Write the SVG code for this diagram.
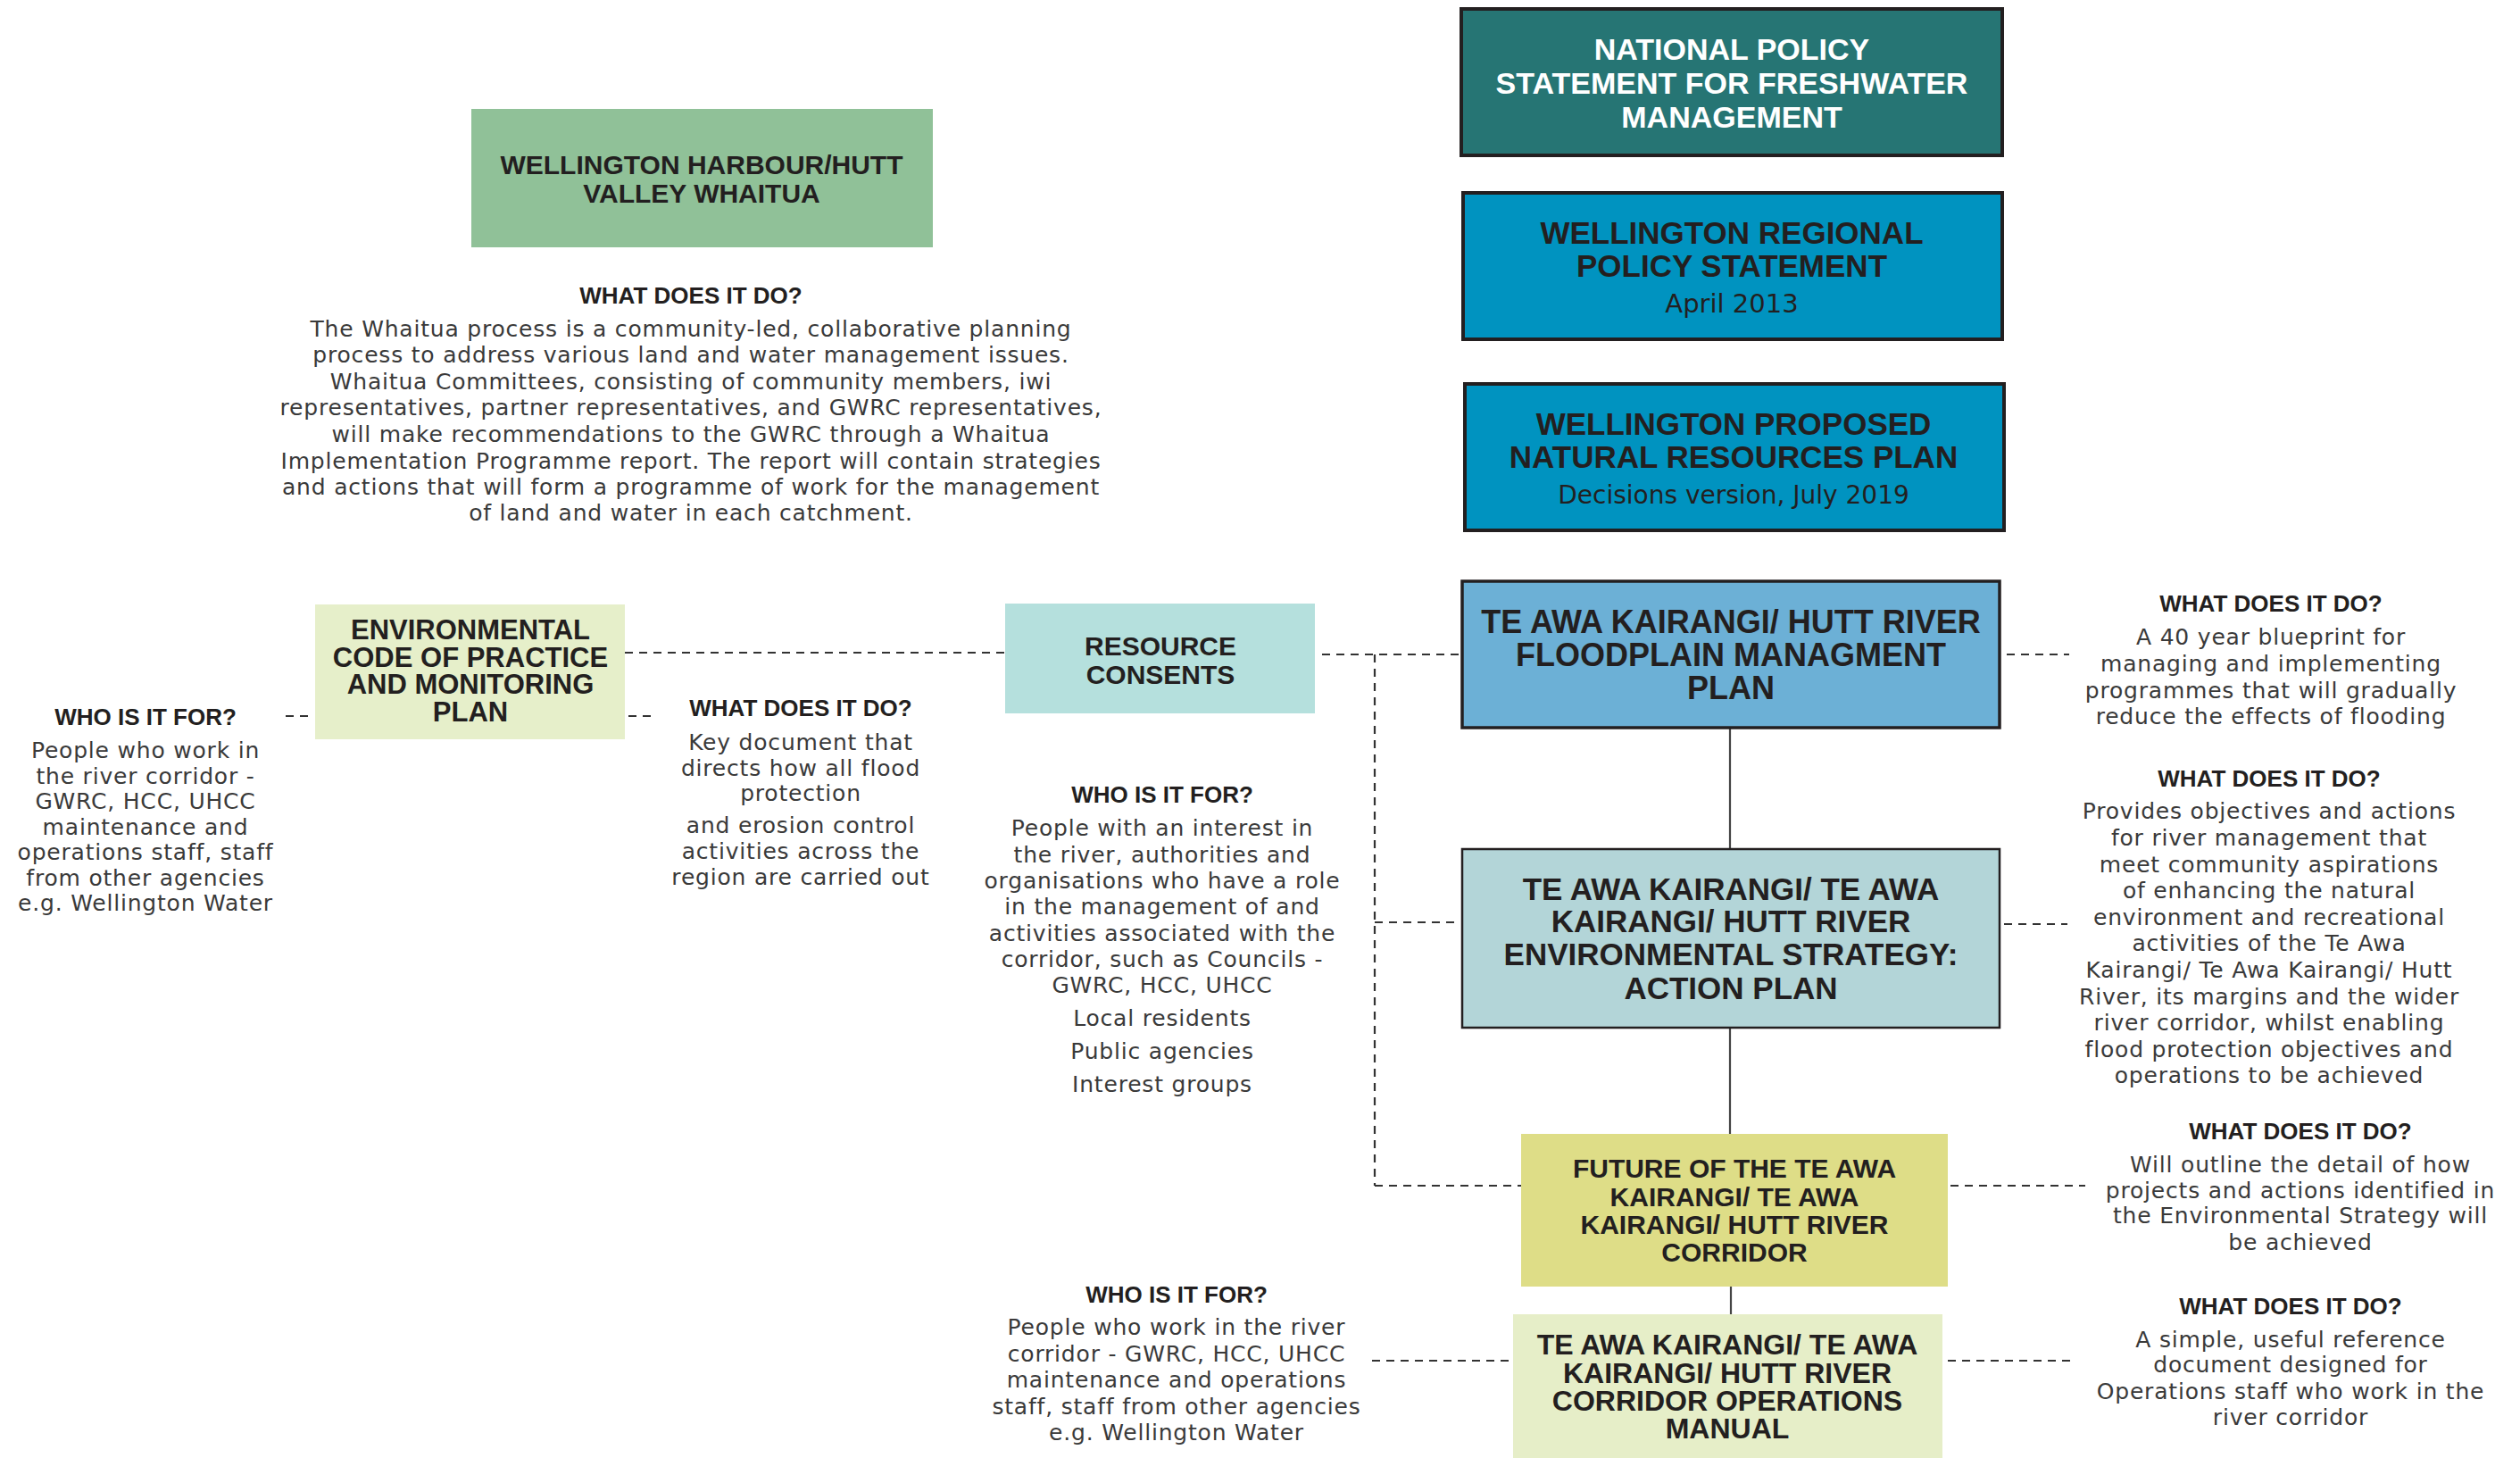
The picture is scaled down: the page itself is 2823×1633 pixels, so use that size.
<svg xmlns="http://www.w3.org/2000/svg" width="2823" height="1633" viewBox="0 0 2823 1633">
<style>
.h{font-family:"Liberation Sans",Arial,sans-serif;font-weight:bold;text-anchor:middle;fill:#231f20}
.hw{fill:#ffffff}
.q{font-family:"Liberation Sans",Arial,sans-serif;font-weight:bold;font-size:26px;text-anchor:middle;fill:#231f20}
.b{font-family:"DejaVu Sans",Verdana,sans-serif;font-size:25px;letter-spacing:0.8px;text-anchor:middle;fill:#3a3a3a}
.sub{font-family:"DejaVu Sans",Verdana,sans-serif;text-anchor:middle;fill:#231f20}
.bd{stroke:#231f20;stroke-width:4}
.dash{fill:none;stroke:#333333;stroke-width:2.2;stroke-dasharray:9 7}
.solid{fill:none;stroke:#444444;stroke-width:2.2}
</style>
<rect width="2823" height="1633" fill="#ffffff"/>

<g id="connectors">
<line class="dash" x1="700" y1="731" x2="1126" y2="731"/>
<line class="dash" x1="1481" y1="733" x2="1636" y2="733"/>
<line class="dash" x1="1540" y1="733" x2="1540" y2="1328"/>
<line class="dash" x1="1540" y1="1033" x2="1636" y2="1033"/>
<line class="dash" x1="1540" y1="1328" x2="1704" y2="1328"/>
<line class="dash" x1="2248" y1="733" x2="2318" y2="733"/>
<line class="dash" x1="2245" y1="1035" x2="2316" y2="1035"/>
<line class="dash" x1="2185" y1="1328" x2="2336" y2="1328"/>
<line class="dash" x1="2182" y1="1524" x2="2322" y2="1524"/>
<line class="dash" x1="1537" y1="1524" x2="1690" y2="1524"/>
<line class="dash" x1="320" y1="802" x2="351" y2="802"/>
<line class="dash" x1="704" y1="802" x2="730" y2="802"/>
<line class="solid" x1="1938" y1="816" x2="1938" y2="950"/>
<line class="solid" x1="1938" y1="1151" x2="1938" y2="1270"/>
<line class="solid" x1="1939" y1="1441" x2="1939" y2="1472"/>
</g>

<g id="nps">
<rect class="bd" x="1637" y="10" width="606" height="164" fill="#267574"/>
<text class="h hw" font-size="34" x="1940" y="67">NATIONAL POLICY</text>
<text class="h hw" font-size="34" x="1940" y="105">STATEMENT FOR FRESHWATER</text>
<text class="h hw" font-size="34" x="1940" y="143">MANAGEMENT</text>
</g>

<g id="wrps">
<rect class="bd" x="1639" y="216" width="604" height="164" fill="#0093c0"/>
<text class="h" font-size="35" x="1940" y="273">WELLINGTON REGIONAL</text>
<text class="h" font-size="35" x="1940" y="310">POLICY STATEMENT</text>
<text class="sub" font-size="29" x="1940" y="350">April 2013</text>
</g>

<g id="wpnrp">
<rect class="bd" x="1641" y="430" width="604" height="164" fill="#0093c0"/>
<text class="h" font-size="35" x="1942" y="487">WELLINGTON PROPOSED</text>
<text class="h" font-size="35" x="1942" y="524">NATURAL RESOURCES PLAN</text>
<text class="sub" font-size="28" x="1942" y="564">Decisions version, July 2019</text>
</g>

<g id="whaitua">
<rect x="528" y="122" width="517" height="155" fill="#90c198"/>
<text class="h" font-size="30" x="786" y="195">WELLINGTON HARBOUR/HUTT</text>
<text class="h" font-size="30" x="786" y="227">VALLEY WHAITUA</text>
<text class="q" x="774" y="340">WHAT DOES IT DO?</text>
<text class="b" x="774" y="377">The Whaitua process is a community-led, collaborative planning</text>
<text class="b" x="774" y="406">process to address various land and water management issues.</text>
<text class="b" x="774" y="436">Whaitua Committees, consisting of community members, iwi</text>
<text class="b" x="774" y="465">representatives, partner representatives, and GWRC representatives,</text>
<text class="b" x="774" y="495">will make recommendations to the GWRC through a Whaitua</text>
<text class="b" x="774" y="525">Implementation Programme report. The report will contain strategies</text>
<text class="b" x="774" y="554">and actions that will form a programme of work for the management</text>
<text class="b" x="774" y="583">of land and water in each catchment.</text>
</g>

<g id="envcode">
<rect x="353" y="677" width="347" height="151" fill="#e6efca"/>
<text class="h" font-size="31" x="527" y="716">ENVIRONMENTAL</text>
<text class="h" font-size="31" x="527" y="747">CODE OF PRACTICE</text>
<text class="h" font-size="31" x="527" y="777">AND MONITORING</text>
<text class="h" font-size="31" x="527" y="808">PLAN</text>
<text class="q" x="163" y="812">WHO IS IT FOR?</text>
<text class="b" font-size="24" x="163" y="849">People who work in</text>
<text class="b" font-size="24" x="163" y="878">the river corridor -</text>
<text class="b" font-size="24" x="163" y="906">GWRC, HCC, UHCC</text>
<text class="b" font-size="24" x="163" y="935">maintenance and</text>
<text class="b" font-size="24" x="163" y="963">operations staff, staff</text>
<text class="b" font-size="24" x="163" y="992">from other agencies</text>
<text class="b" font-size="24" x="163" y="1020">e.g. Wellington Water</text>
<text class="q" x="897" y="802">WHAT DOES IT DO?</text>
<text class="b" font-size="24" x="897" y="840">Key document that</text>
<text class="b" font-size="24" x="897" y="869">directs how all flood</text>
<text class="b" font-size="24" x="897" y="897">protection</text>
<text class="b" font-size="24" x="897" y="933">and erosion control</text>
<text class="b" font-size="24" x="897" y="962">activities across the</text>
<text class="b" font-size="24" x="897" y="991">region are carried out</text>
</g>

<g id="resource">
<rect x="1126" y="676" width="347" height="123" fill="#b5e0dd"/>
<text class="h" font-size="30" x="1300" y="734">RESOURCE</text>
<text class="h" font-size="30" x="1300" y="766">CONSENTS</text>
<text class="q" x="1302" y="899">WHO IS IT FOR?</text>
<text class="b" x="1302" y="936">People with an interest in</text>
<text class="b" x="1302" y="966">the river, authorities and</text>
<text class="b" x="1302" y="995">organisations who have a role</text>
<text class="b" x="1302" y="1024">in the management of and</text>
<text class="b" x="1302" y="1054">activities associated with the</text>
<text class="b" x="1302" y="1083">corridor, such as Councils -</text>
<text class="b" x="1302" y="1112">GWRC, HCC, UHCC</text>
<text class="b" x="1302" y="1149">Local residents</text>
<text class="b" x="1302" y="1186">Public agencies</text>
<text class="b" x="1302" y="1223">Interest groups</text>
</g>

<g id="floodplain">
<rect x="1638" y="651" width="602" height="164" fill="#6cb0d6" stroke="#231f20" stroke-width="3.5"/>
<text class="h" font-size="36" x="1939" y="709">TE AWA KAIRANGI/ HUTT RIVER</text>
<text class="h" font-size="36" x="1939" y="746">FLOODPLAIN MANAGMENT</text>
<text class="h" font-size="36" x="1939" y="783">PLAN</text>
<text class="q" x="2544" y="685">WHAT DOES IT DO?</text>
<text class="b" x="2544" y="722">A 40 year blueprint for</text>
<text class="b" x="2544" y="752">managing and implementing</text>
<text class="b" x="2544" y="782">programmes that will gradually</text>
<text class="b" x="2544" y="811">reduce the effects of flooding</text>
</g>

<g id="envstrategy">
<rect x="1638" y="951" width="602" height="200" fill="#b3d5d8" stroke="#231f20" stroke-width="2.5"/>
<text class="h" font-size="35" x="1939" y="1008">TE AWA KAIRANGI/ TE AWA</text>
<text class="h" font-size="35" x="1939" y="1044">KAIRANGI/ HUTT RIVER</text>
<text class="h" font-size="35" x="1939" y="1081">ENVIRONMENTAL STRATEGY:</text>
<text class="h" font-size="35" x="1939" y="1119">ACTION PLAN</text>
<text class="q" x="2542" y="881">WHAT DOES IT DO?</text>
<text class="b" x="2542" y="917">Provides objectives and actions</text>
<text class="b" x="2542" y="947">for river management that</text>
<text class="b" x="2542" y="977">meet community aspirations</text>
<text class="b" x="2542" y="1006">of enhancing the natural</text>
<text class="b" x="2542" y="1036">environment and recreational</text>
<text class="b" x="2542" y="1065">activities of the Te Awa</text>
<text class="b" x="2542" y="1095">Kairangi/ Te Awa Kairangi/ Hutt</text>
<text class="b" x="2542" y="1125">River, its margins and the wider</text>
<text class="b" x="2542" y="1154">river corridor, whilst enabling</text>
<text class="b" x="2542" y="1184">flood protection objectives and</text>
<text class="b" x="2542" y="1213">operations to be achieved</text>
</g>

<g id="future">
<rect x="1704" y="1270" width="478" height="171" fill="#dedd87"/>
<text class="h" font-size="30" x="1943" y="1319">FUTURE OF THE TE AWA</text>
<text class="h" font-size="30" x="1943" y="1351">KAIRANGI/ TE AWA</text>
<text class="h" font-size="30" x="1943" y="1382">KAIRANGI/ HUTT RIVER</text>
<text class="h" font-size="30" x="1943" y="1413">CORRIDOR</text>
<text class="q" x="2577" y="1276">WHAT DOES IT DO?</text>
<text class="b" x="2577" y="1313">Will outline the detail of how</text>
<text class="b" x="2577" y="1342">projects and actions identified in</text>
<text class="b" x="2577" y="1370">the Environmental Strategy will</text>
<text class="b" x="2577" y="1400">be achieved</text>
</g>

<g id="manual">
<rect x="1695" y="1472" width="481" height="161" fill="#e6eec8"/>
<text class="h" font-size="32" x="1935" y="1517">TE AWA KAIRANGI/ TE AWA</text>
<text class="h" font-size="32" x="1935" y="1549">KAIRANGI/ HUTT RIVER</text>
<text class="h" font-size="32" x="1935" y="1580">CORRIDOR OPERATIONS</text>
<text class="h" font-size="32" x="1935" y="1611">MANUAL</text>
<text class="q" x="2566" y="1472">WHAT DOES IT DO?</text>
<text class="b" x="2566" y="1509">A simple, useful reference</text>
<text class="b" x="2566" y="1537">document designed for</text>
<text class="b" x="2566" y="1567">Operations staff who work in the</text>
<text class="b" x="2566" y="1596">river corridor</text>
<text class="q" x="1318" y="1459">WHO IS IT FOR?</text>
<text class="b" x="1318" y="1495">People who work in the river</text>
<text class="b" x="1318" y="1525">corridor - GWRC, HCC, UHCC</text>
<text class="b" x="1318" y="1554">maintenance and operations</text>
<text class="b" x="1318" y="1584">staff, staff from other agencies</text>
<text class="b" x="1318" y="1613">e.g. Wellington Water</text>
</g>
</svg>
